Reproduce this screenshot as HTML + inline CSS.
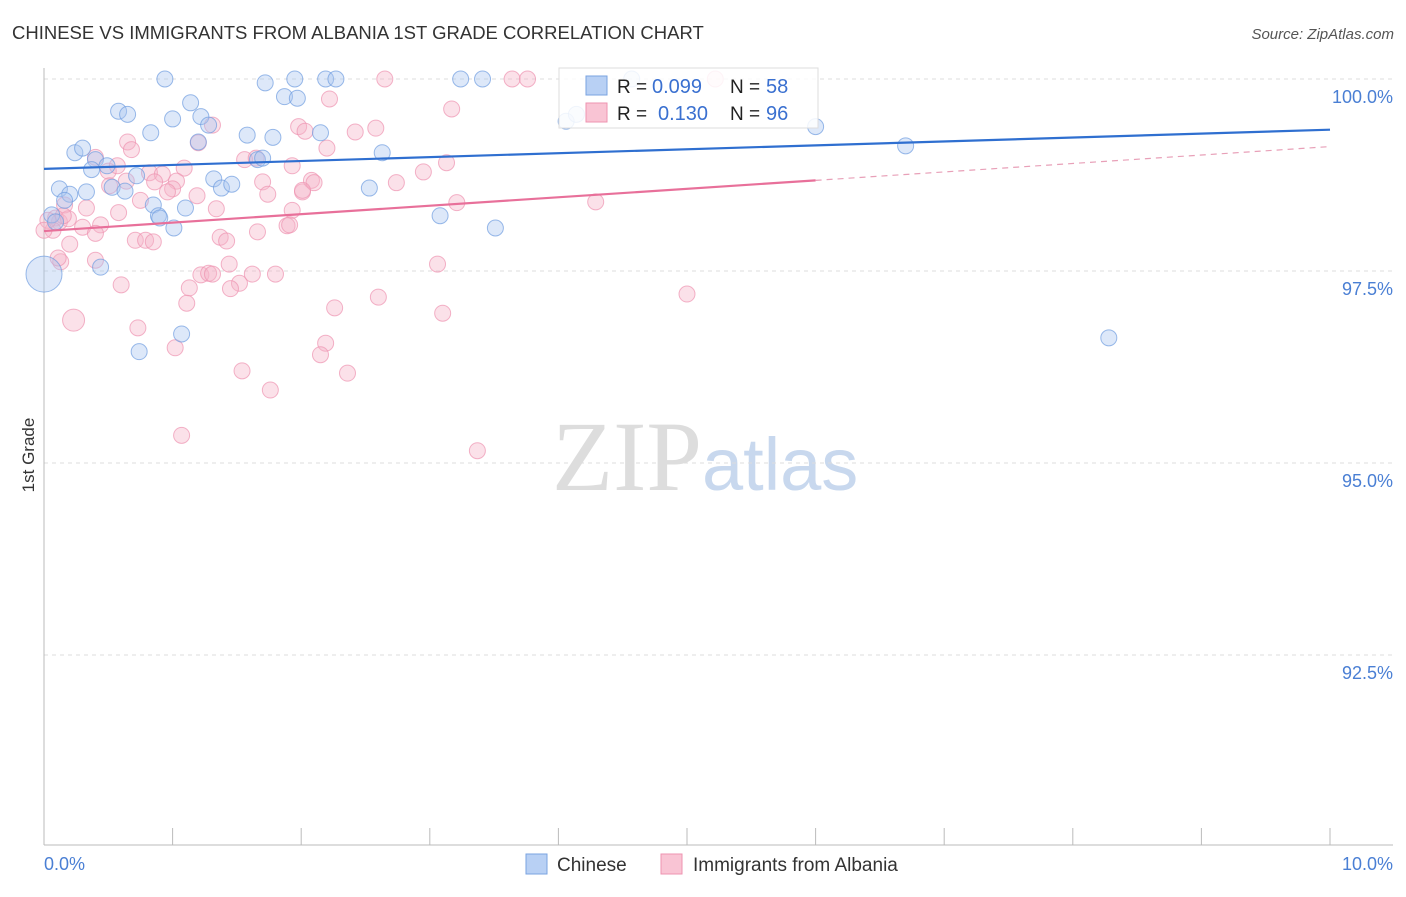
<!DOCTYPE html>
<html><head><meta charset="utf-8"><style>
body{margin:0;background:#fff;font-family:"Liberation Sans",sans-serif;}
svg text{font-family:"Liberation Sans",sans-serif;}
</style></head><body>
<svg id="chart" width="1406" height="892" xmlns="http://www.w3.org/2000/svg">
<text x="12" y="39" font-size="18.5" fill="#333">CHINESE VS IMMIGRANTS FROM ALBANIA 1ST GRADE CORRELATION CHART</text>
<text x="1394" y="39" font-size="15" fill="#555" text-anchor="end" font-style="italic">Source: ZipAtlas.com</text>
<text x="552" y="490" font-size="100"><tspan fill="#ddd" font-family="Liberation Serif">ZIP</tspan><tspan fill="#c8d8ee" font-size="74">atlas</tspan></text>
<text transform="translate(34,455) rotate(-90)" font-size="17" fill="#333" text-anchor="middle">1st Grade</text>
<g id="grid"></g><g id="axes"></g><g id="pts"></g><g id="lines"></g>
<g>
<rect x="559" y="68" width="259" height="60" fill="#fff" fill-opacity="0.85" stroke="#ddd"/>
<rect x="586" y="76" width="21" height="19" fill="#b8d0f4" stroke="#7aa3e0"/>
<rect x="586" y="103" width="21" height="19" fill="#f9c4d4" stroke="#ee93b0"/>
<text x="617" y="93" font-size="19" fill="#222">R =</text>
<text x="652" y="93" font-size="20" fill="#3a70d0">0.099</text>
<text x="730" y="93" font-size="19" fill="#222">N =</text>
<text x="766" y="93" font-size="20" fill="#3a70d0">58</text>
<text x="617" y="120" font-size="19" fill="#222">R =</text>
<text x="658" y="120" font-size="20" fill="#3a70d0">0.130</text>
<text x="730" y="120" font-size="19" fill="#222">N =</text>
<text x="766" y="120" font-size="20" fill="#3a70d0">96</text>
</g>
<g>
<rect x="526" y="854" width="21" height="20" fill="#b8d0f4" stroke="#7aa3e0"/>
<text x="557" y="871" font-size="19" fill="#333">Chinese</text>
<rect x="661" y="854" width="21" height="20" fill="#f9c4d4" stroke="#ee93b0"/>
<text x="693" y="871" font-size="19" fill="#333">Immigrants from Albania</text>
</g>
</svg>
<script>
const yTicks=[100,97.5,95,92.5];
const yTickLabels=["100.0%","97.5%","95.0%","92.5%"];
const xTickLabels=["0.0%","10.0%"];
const blueX=[0.94,1.72,1.95,2.19,2.27,3.24,3.41,4.57,0.58,0.65,1.14,1.00,1.22,1.28,0.83,1.58,1.78,2.15,1.87,1.97,4.06,4.14,6.00,6.70,0.24,0.30,0.40,0.49,0.37,1.20,1.66,2.63,0.12,0.20,0.33,0.53,0.63,0.72,1.32,1.38,1.46,2.53,0.16,0.85,1.10,0.89,1.01,3.08,3.51,0.06,0.09,0.44,0.00,1.07,0.74,8.28,1.70,0.90];
const blueY=[100,99.95,100,100,100,100,100,100,99.58,99.54,99.69,99.48,99.51,99.40,99.30,99.27,99.24,99.30,99.77,99.75,99.45,99.54,99.38,99.13,99.04,99.10,98.95,98.87,98.82,99.18,98.95,99.04,98.57,98.50,98.53,98.59,98.54,98.74,98.70,98.58,98.63,98.58,98.42,98.36,98.32,98.22,98.06,98.22,98.06,98.23,98.14,97.55,97.46,96.68,96.45,96.63,98.97,98.19];
const pinkX=[2.65,3.64,3.76,5.22,2.22,3.17,1.31,1.98,2.03,2.42,2.58,0.65,0.68,1.20,2.20,0.40,1.09,0.50,0.82,0.92,0.86,1.03,1.56,1.70,1.74,2.01,2.08,2.10,2.74,2.95,3.13,3.21,4.29,0.51,0.64,0.75,1.00,1.19,0.33,0.58,0.16,0.09,0.12,0.19,0.30,0.44,0.40,0.07,0.71,0.79,0.85,1.37,1.42,1.66,1.89,1.93,0.20,0.13,0.40,0.60,1.34,1.13,1.22,1.28,1.31,1.44,1.52,1.45,1.62,1.80,1.11,2.26,2.60,3.06,3.10,5.00,0.23,0.73,1.02,2.19,2.15,1.54,2.36,1.76,1.07,3.37,0.03,0.15,1.93,2.01,1.65,0.96,0.57,0.00,0.11,1.91];
const pinkY=[100,100,100,100,99.74,99.61,99.40,99.38,99.32,99.31,99.36,99.18,99.08,99.17,99.10,98.98,98.84,98.80,98.78,98.76,98.66,98.67,98.95,98.66,98.50,98.53,98.68,98.65,98.65,98.79,98.91,98.39,98.40,98.61,98.67,98.42,98.57,98.48,98.32,98.26,98.36,98.19,98.14,98.18,98.07,98.10,97.99,98.03,97.90,97.90,97.88,97.94,97.89,98.01,98.09,98.29,97.85,97.62,97.64,97.32,98.31,97.28,97.45,97.47,97.46,97.59,97.34,97.27,97.46,97.46,97.08,97.02,97.16,97.59,96.95,97.20,96.86,96.76,96.50,96.56,96.41,96.20,96.17,95.95,95.36,95.16,98.16,98.22,98.87,98.55,98.97,98.53,98.87,98.03,97.67,98.10];
const blueTrend=[98.83,99.34];
const pinkTrend=[98.02,99.12];
const pinkSolidEnd=6;
const NS="http://www.w3.org/2000/svg";
const xS=v=>44+v*128.6;
const yS=v=>79+(100-v)*76.8;
function mk(tag,attrs,parent){const e=document.createElementNS(NS,tag);for(const k in attrs)e.setAttribute(k,attrs[k]);parent.appendChild(e);return e;}
const grid=document.getElementById('grid'),axes=document.getElementById('axes'),pts=document.getElementById('pts'),lines=document.getElementById('lines');
yTicks.forEach((t,i)=>{
 const l=mk('line',{x1:44,x2:1393,y1:yS(t),y2:yS(t),stroke:'#ddd','stroke-dasharray':'4,4'},grid);
 
 
 const tx=mk('text',{x:1393,y:yS(t)+24,'font-size':18,fill:'#4a7fd4','text-anchor':'end'},axes);
 tx.textContent=yTickLabels[i];
 
 
});
const ax=mk('line',{x1:44,x2:44,y1:68,y2:845,stroke:'#bbb'},axes);


const bx=mk('line',{x1:44,x2:1393,y1:845,y2:845,stroke:'#bbb'},axes);


for(let i=0;i<=10;i++){
 const t=mk('line',{x1:xS(i),x2:xS(i),y1:828,y2:845,stroke:'#bbb'},axes);
 
 
}
[[0,xTickLabels[0],'start',44],[10,xTickLabels[1],'end',1393]].forEach(a=>{
 const t=mk('text',{x:a[3],y:870,'font-size':18,fill:'#4a7fd4','text-anchor':a[2]},axes);
 t.textContent=a[1];
 
 
});
function dots(X,Y,fill,stroke,name,big){
 X.forEach((x,i)=>{
  let r=8; if(big===i)r=name==='chinese-point'?18:11;
  const c=mk('circle',{cx:xS(x),cy:yS(Y[i]),r:r,fill:fill,'fill-opacity':0.4,stroke:stroke,'stroke-opacity':0.7,'stroke-width':1},pts);
  
  
 });
}
dots(pinkX,pinkY,'#f6b3c8','#ee93b0','albania-point',76);
dots(blueX,blueY,'#a9c6f0','#6f9ddf','chinese-point',52);
const bl=mk('line',{x1:xS(0),y1:yS(blueTrend[0]),x2:xS(10),y2:yS(blueTrend[1]),stroke:'#2f6fd0','stroke-width':2.2},lines);


const pm=pinkTrend[0]+(pinkTrend[1]-pinkTrend[0])*pinkSolidEnd/10;
const pl=mk('line',{x1:xS(0),y1:yS(pinkTrend[0]),x2:xS(pinkSolidEnd),y2:yS(pm),stroke:'#e8709a','stroke-width':2.2},lines);


const pd=mk('line',{x1:xS(pinkSolidEnd),y1:yS(pm),x2:xS(10),y2:yS(pinkTrend[1]),stroke:'#e8a0b8','stroke-width':1.2,'stroke-dasharray':'6,5'},lines);


</script>
</body></html>
